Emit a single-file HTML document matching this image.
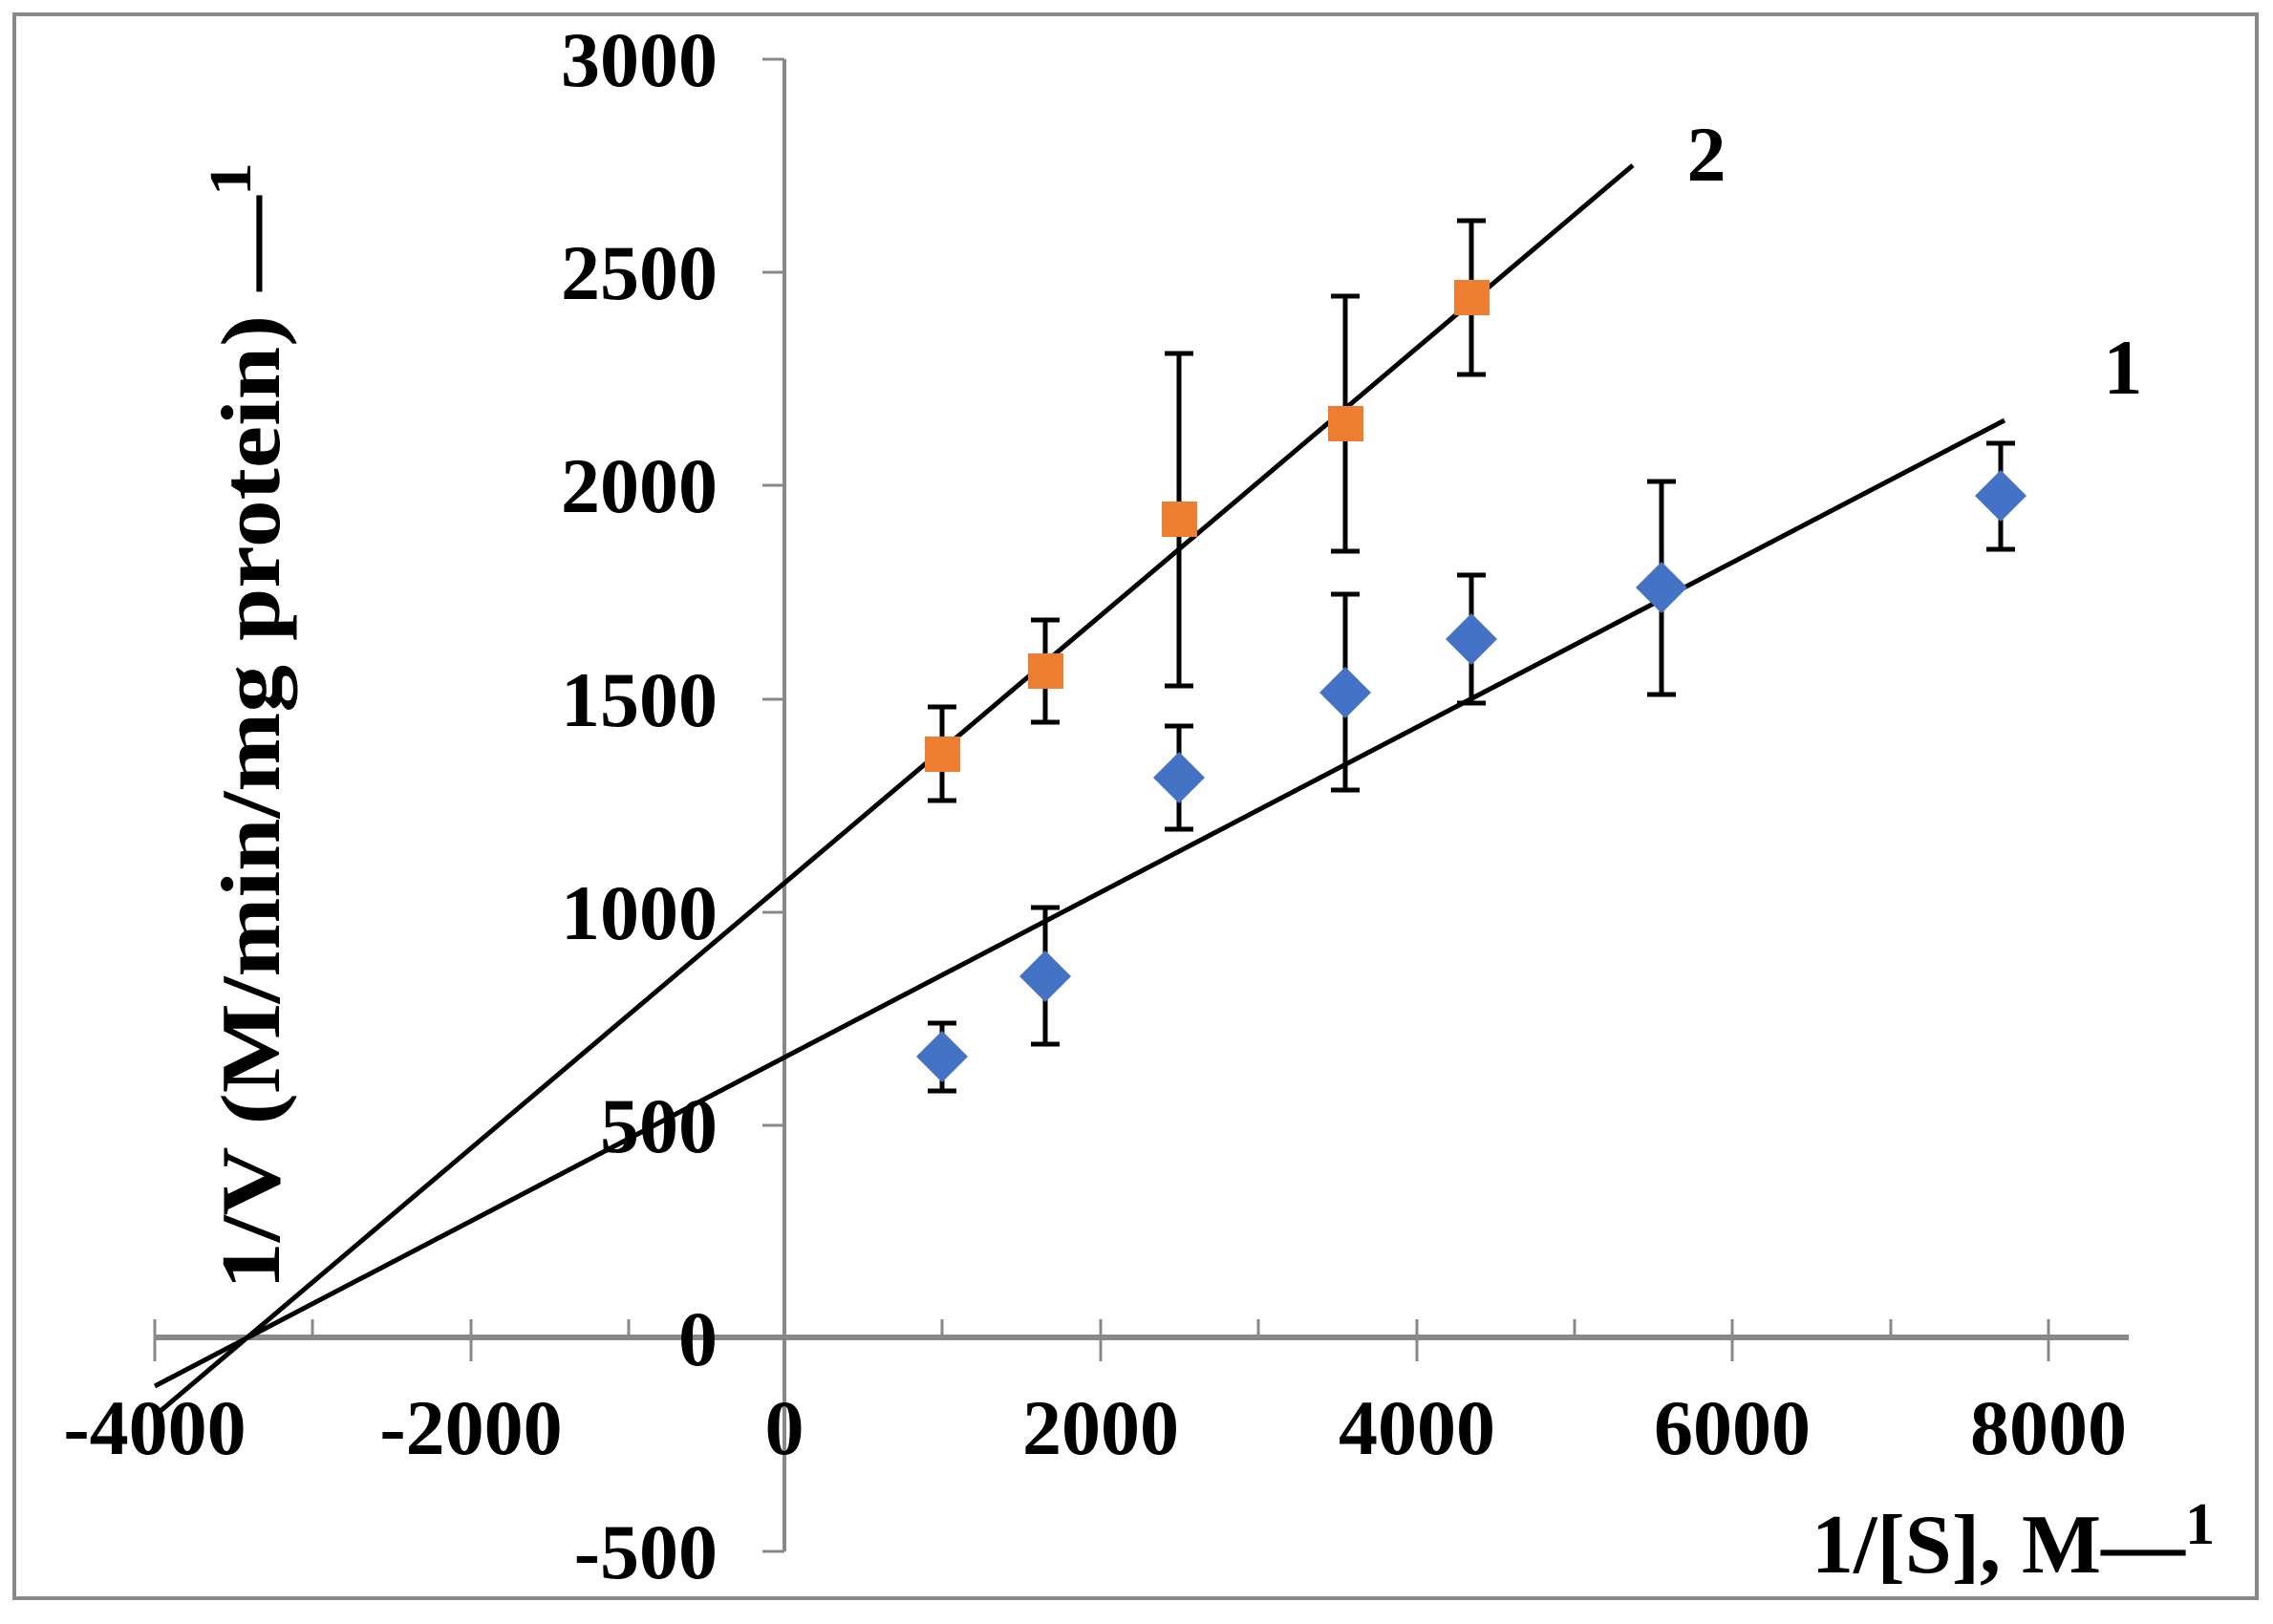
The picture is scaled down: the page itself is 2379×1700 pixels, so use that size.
<!DOCTYPE html>
<html><head><meta charset="utf-8"><style>
html,body{margin:0;padding:0;background:#fff}
svg{display:block}
text{font-family:"Liberation Serif",serif;font-weight:bold;fill:#000}
</style></head><body>
<svg width="2379" height="1700" viewBox="0 0 2379 1700" xmlns="http://www.w3.org/2000/svg">
<rect x="15" y="15" width="2347" height="1658" fill="#fff" stroke="#888" stroke-width="4"/>
<g stroke="#888">
<line x1="821" y1="62" x2="821" y2="1624" stroke-width="4"/>
<line x1="162" y1="1400" x2="2228" y2="1400" stroke-width="6"/>
<g stroke-width="3">
<line x1="798" y1="62" x2="821" y2="62"/><line x1="798" y1="285" x2="821" y2="285"/>
<line x1="798" y1="508" x2="821" y2="508"/><line x1="798" y1="732" x2="821" y2="732"/>
<line x1="798" y1="955" x2="821" y2="955"/><line x1="798" y1="1178" x2="821" y2="1178"/>
<line x1="798" y1="1401" x2="821" y2="1401"/><line x1="798" y1="1624" x2="821" y2="1624"/>
<line x1="162" y1="1381" x2="162" y2="1425"/><line x1="327" y1="1381" x2="327" y2="1400"/>
<line x1="493" y1="1381" x2="493" y2="1425"/><line x1="658" y1="1381" x2="658" y2="1400"/>
<line x1="986" y1="1381" x2="986" y2="1400"/>
<line x1="1152" y1="1381" x2="1152" y2="1425"/><line x1="1317" y1="1381" x2="1317" y2="1400"/>
<line x1="1483" y1="1381" x2="1483" y2="1425"/><line x1="1648" y1="1381" x2="1648" y2="1400"/>
<line x1="1813" y1="1381" x2="1813" y2="1425"/><line x1="1979" y1="1381" x2="1979" y2="1400"/>
<line x1="2144" y1="1381" x2="2144" y2="1425"/>
</g></g>
<g font-size="82" text-anchor="end">
<text x="751" y="90">3000</text><text x="751" y="313">2500</text>
<text x="751" y="536">2000</text><text x="751" y="760">1500</text>
<text x="751" y="983">1000</text><text x="751" y="1206">500</text>
<text x="751" y="1429">0</text><text x="751" y="1652">-500</text>
</g>
<g font-size="82" text-anchor="middle">
<text x="162" y="1522">-4000</text><text x="493" y="1522">-2000</text>
<text x="821" y="1522">0</text><text x="1152" y="1522">2000</text>
<text x="1483" y="1522">4000</text><text x="1813" y="1522">6000</text>
<text x="2144" y="1522">8000</text>
</g>
<text transform="translate(292,760) rotate(-90)" font-size="88" text-anchor="middle" textLength="1180" lengthAdjust="spacingAndGlyphs">1/V (M/min/mg protein) —<tspan dy="-30" font-size="62">1</tspan></text>
<text x="1896" y="1646" font-size="88">1/[S], M—<tspan dy="-30" font-size="62">1</tspan></text>
<text x="2222" y="412" font-size="82" text-anchor="middle">1</text>
<text x="1786" y="189" font-size="82" text-anchor="middle">2</text>
<g stroke="#000" stroke-width="5">
<line x1="162" y1="1451" x2="2098" y2="440"/>
<line x1="162" y1="1482" x2="1709" y2="173"/>
</g>
<g stroke="#000" stroke-width="5" fill="none">
<path d="M986 1071V1142M971 1071H1001M971 1142H1001"/>
<path d="M1094 950V1093M1079 950H1109M1079 1093H1109"/>
<path d="M1234 760V868M1219 760H1249M1219 868H1249"/>
<path d="M1408 622V827M1393 622H1423M1393 827H1423"/>
<path d="M1540 602V736M1525 602H1555M1525 736H1555"/>
<path d="M1739 504V727M1724 504H1754M1724 727H1754"/>
<path d="M2094 464V575M2079 464H2109M2079 575H2109"/>
<path d="M986 740V838M971 740H1001M971 838H1001"/>
<path d="M1094 649V756M1079 649H1109M1079 756H1109"/>
<path d="M1234 370V718M1219 370H1249M1219 718H1249"/>
<path d="M1408 310V577M1393 310H1423M1393 577H1423"/>
<path d="M1540 231V392M1525 231H1555M1525 392H1555"/>
</g>
<g fill="#4472C4">
<path d="M986 1079l27 27-27 27-27-27z"/>
<path d="M1094 995l27 27-27 27-27-27z"/>
<path d="M1234 787l27 27-27 27-27-27z"/>
<path d="M1408 698l27 27-27 27-27-27z"/>
<path d="M1540 642l27 27-27 27-27-27z"/>
<path d="M1739 588l27 27-27 27-27-27z"/>
<path d="M2094 492l27 27-27 27-27-27z"/>
</g>
<g fill="#ED7D31">
<rect x="968" y="771" width="37" height="37"/>
<rect x="1076" y="684" width="37" height="37"/>
<rect x="1216" y="525" width="37" height="37"/>
<rect x="1390" y="425" width="37" height="37"/>
<rect x="1522" y="293" width="37" height="37"/>
</g>
</svg>
</body></html>
